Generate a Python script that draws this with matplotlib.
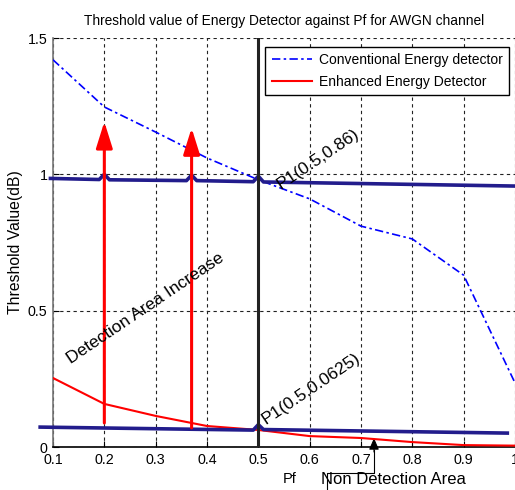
import matplotlib
matplotlib.use("Agg")
import matplotlib.pyplot as plt
from matplotlib.lines import Line2D

# data
pf = [0.1, 0.2, 0.3, 0.4, 0.5, 0.6, 0.7, 0.8, 0.9, 1.0]
conv_thr = [1.42, 1.247, 1.155, 1.06, 0.98, 0.91, 0.81, 0.763, 0.63, 0.235]
enh_thr = [0.253, 0.158, 0.114, 0.077, 0.0625, 0.04, 0.033, 0.018, 0.007, 0.005]

# hand drawn dark blue level lines (with the little bumps)
upper_x = [0.095, 0.19, 0.2, 0.21, 0.36, 0.37, 0.38, 0.49, 0.5, 0.51, 1.0]
upper_y = [0.985, 0.981, 1.0, 0.98, 0.977, 0.997, 0.977, 0.973, 0.993, 0.972, 0.957]
lower_x = [0.075, 0.49, 0.5, 0.51, 0.985]
lower_y = [0.073, 0.062, 0.082, 0.064, 0.051]

# red arrows: x, start y, tip y
arrow_x = [0.2, 0.37]
arrow_y0 = [0.088, 0.07]
arrow_y1 = [1.193, 1.17]

pf_mark = 0.5
xticks = [0.1, 0.2, 0.3, 0.4, 0.5, 0.6, 0.7, 0.8, 0.9, 1.0]
xticklabels = ["0.1", "0.2", "0.3", "0.4", "0.5", "0.6", "0.7", "0.8", "0.9", "1"]
yticks = [0, 0.5, 1, 1.5]
yticklabels = ["0", "0.5", "1", "1.5"]

plain = ["Liberation Sans", "DejaVu Sans"]

fig = plt.figure(figsize=(5.15, 4.9), dpi=100)
ax = fig.add_axes([53 / 515, 43 / 490, 462 / 515, 409 / 490])

ax.plot(pf, conv_thr, color="blue", lw=1.2, ls=(0, (5, 2, 1.5, 2)),
        label="Conventional Energy detector", zorder=4)
ax.plot(pf, enh_thr, color="red", lw=1.5, label="Enhanced Energy Detector", zorder=4)

ax.plot(upper_x, upper_y, color="#221c8c", lw=2.6, zorder=5, clip_on=False)
ax.plot(lower_x, lower_y, color="#221c8c", lw=2.6, zorder=5, clip_on=False)
ax.axvline(pf_mark, color="#222222", lw=2.2, zorder=6)

for x, y0, y1 in zip(arrow_x, arrow_y0, arrow_y1):
    ax.annotate("", xy=(x, y1), xytext=(x, y0),
                arrowprops=dict(arrowstyle="-|>,head_length=0.8,head_width=0.25",
                                mutation_scale=20, color="red", lw=2.2,
                                shrinkA=0, shrinkB=0), zorder=7)

ax.set_xlim(0.1, 1.0)
ax.set_ylim(0, 1.5)
ax.set_xticks(xticks)
ax.set_xticklabels(xticklabels, family=plain, fontsize=10.3)
ax.set_yticks(yticks)
ax.set_yticklabels(yticklabels, family=plain, fontsize=10.3)
ax.tick_params(direction="in", length=4, width=0.8, pad=4)
ax.grid(True, color="#222222", ls=(0, (3, 3)), lw=0.8)

for s in ["top", "right"]:
    ax.spines[s].set_visible(False)
ax.spines["left"].set_color("#777777")
ax.spines["bottom"].set_color("black")
ax.spines["left"].set_linewidth(1.2)
ax.spines["bottom"].set_linewidth(1.2)

ax.set_title("Threshold value of Energy Detector against Pf for AWGN channel",
             family=plain, fontsize=9.9, pad=9)
ax.set_xlabel("Pf", family=plain, fontsize=10.5)
ax.xaxis.set_label_coords(0.513, -0.061)
ax.set_ylabel("Threshold Value(dB)", family=plain, fontsize=11.3)
ax.yaxis.set_label_coords(-0.066, 0.5)

leg = ax.legend(loc="upper right", bbox_to_anchor=(0.987, 0.978), borderaxespad=0,
                fancybox=False, edgecolor="black", framealpha=1, handlelength=2.9,
                prop={"family": plain, "size": 10}, borderpad=0.45,
                labelspacing=0.55, handletextpad=0.5)
leg.get_frame().set_linewidth(1.0)

ax.text(0.281, 0.51, "Detection Area Increase", rotation=34, rotation_mode="anchor",
        ha="center", va="center", family=plain, fontsize=12.5, zorder=8)
ax.text(0.616, 1.055, "P1(0.5,0.86)", rotation=34, rotation_mode="anchor",
        ha="center", va="center", family=plain, fontsize=12.5, zorder=8)
ax.text(0.603, 0.215, "P1(0.5,0.0625)", rotation=34, rotation_mode="anchor",
        ha="center", va="center", family=plain, fontsize=12.5, zorder=8)

fig.text(321 / 515, 11 / 490, "Non Detection Area", family=plain, fontsize=12,
         ha="left", va="center")
fig.add_artist(Line2D([327, 327, 374, 374], [-5, 17, 17, 40], transform=None,
                      color="black", lw=0.8))
ax.annotate("", xy=(374, 52), xycoords="figure pixels", xytext=(374, 38),
            textcoords="figure pixels",
            arrowprops=dict(arrowstyle="-|>,head_length=0.7,head_width=0.3",
                            mutation_scale=10, color="black", lw=0.8,
                            shrinkA=0, shrinkB=0), annotation_clip=False)

fig.savefig("out.png", dpi=100)
